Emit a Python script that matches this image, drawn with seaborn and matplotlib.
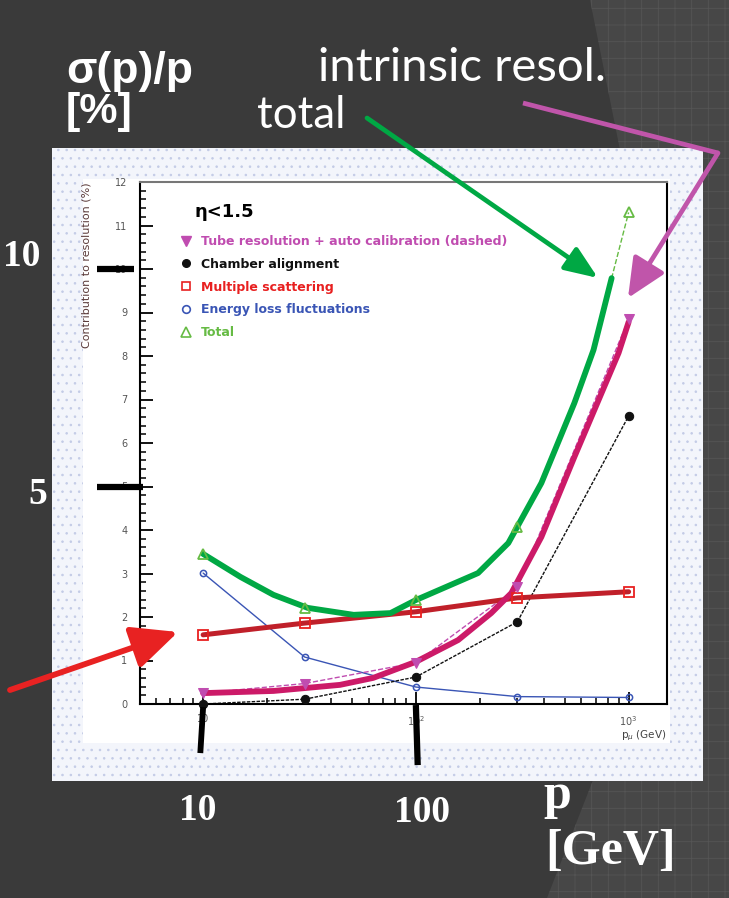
import matplotlib.pyplot as plt
import matplotlib.ticker as mticker
from matplotlib.patches import Rectangle, Polygon, FancyArrowPatch
from matplotlib.lines import Line2D
import seaborn as sns

W, H = 729, 898

# values (muon momentum in GeV, contributions in %)
p_gev = [10, 30, 100, 300, 1000]
tube_res = [0.25, 0.47, 0.95, 2.68, 8.85]
chamber_align = [0.0, 0.11, 0.62, 1.89, 6.62]
mult_scatt = [1.59, 1.86, 2.12, 2.44, 2.58]
eloss_fluct = [3.01, 1.08, 0.39, 0.17, 0.15]
total_res = [3.45, 2.20, 2.39, 4.07, 11.3]

# thick hand drawn highlight curves on top of the plot
hl_total_p = [10, 15, 21.4, 31, 51, 76, 100, 196, 272, 389, 556, 684, 832]
hl_total_v = [3.45, 2.92, 2.51, 2.21, 2.05, 2.09, 2.39, 3.01, 3.70, 5.08, 6.92, 8.14, 9.79]
hl_intr_p = [10, 21.4, 44, 63, 100, 158, 226, 281, 389, 556, 897, 1000]
hl_intr_v = [0.25, 0.30, 0.44, 0.60, 0.97, 1.47, 2.09, 2.55, 3.84, 5.68, 8.07, 8.78]

legend_labels = ["Tube resolution + auto calibration (dashed)", "Chamber alignment",
                 "Multiple scattering", "Energy loss fluctuations", "Total"]
x_tick_vals = [10, 100, 1000]
x_tick_text = ["10", "$10^{2}$", "$10^{3}$"]

c_tube, c_tube_thick = "#c04cb0", "#cc1a68"
c_black = "#111111"
c_ms, c_ms_thick = "#e82020", "#c0202a"
c_el = "#3a55b5"
c_tot, c_tot_thick = "#66bb44", "#00a844"

sns.set_theme(style="white")
plt.rcParams['font.family'] = ['DejaVu Sans']
plt.rcParams['hatch.linewidth'] = 0.6

fig = plt.figure(figsize=(W / 100, H / 100), dpi=100)
fig.patch.set_facecolor("#3a3a3a")


def fx(px):
    return px / W


def fy(py):
    return 1 - py / H


# slide background: lighter swoosh on the right
swoosh = [(590, 0), (729, 0), (729, 898), (547, 898), (593, 780), (640, 560), (650, 400), (630, 200)]
fig.add_artist(Polygon([(fx(a), fy(b)) for a, b in swoosh], closed=True, transform=fig.transFigure,
                       facecolor="#474747", edgecolor="#555555", hatch="+", lw=0, zorder=-3))
# pasted picture: dotted border and white inner part
fig.add_artist(Rectangle((fx(52), fy(781)), (703 - 52) / W, (781 - 148) / H, transform=fig.transFigure,
                         facecolor="#f3f5fb", edgecolor="#c3cbe6", hatch="..", lw=0, zorder=-2))
fig.add_artist(Rectangle((fx(83), fy(743)), (670 - 83) / W, (743 - 179) / H, transform=fig.transFigure,
                         facecolor="white", lw=0, zorder=-1))

ax = fig.add_axes([fx(140), fy(704), (667 - 140) / W, (704 - 182) / H])
ax.set_facecolor("white")
ax.set_xscale("log")

# thin curves of the original plot
sns.lineplot(x=p_gev, y=eloss_fluct, ax=ax, color=c_el, lw=1.0, zorder=2)
sns.lineplot(x=p_gev, y=chamber_align, ax=ax, color=c_black, lw=1.0, ls=(0, (2.5, 1)), zorder=2)
sns.lineplot(x=p_gev, y=tube_res, ax=ax, color=c_tube, lw=1.0, ls="--", zorder=2)
# the thin total curve runs under the thick one and sticks out at the top
sns.lineplot(x=hl_total_p + p_gev[-1:], y=hl_total_v + total_res[-1:], ax=ax, color=c_tot,
             lw=1.0, ls="--", zorder=2)

# thick highlight curves
sns.lineplot(x=p_gev, y=mult_scatt, ax=ax, color=c_ms_thick, lw=3.6,
             solid_capstyle="round", zorder=3)
sns.lineplot(x=hl_total_p, y=hl_total_v, ax=ax, color=c_tot_thick, lw=4.2,
             solid_capstyle="round", solid_joinstyle="round", zorder=3)
sns.lineplot(x=hl_intr_p, y=hl_intr_v, ax=ax, color=c_tube_thick, lw=4.2,
             solid_capstyle="round", solid_joinstyle="round", zorder=3)

# markers
sns.lineplot(x=p_gev, y=eloss_fluct, ax=ax, ls="none", marker="o", ms=4.5, mfc="none",
             mec=c_el, mew=1.1, zorder=4)
sns.lineplot(x=p_gev, y=chamber_align, ax=ax, ls="none", marker="o", ms=6, mfc=c_black,
             mec=c_black, zorder=4, clip_on=False)
sns.lineplot(x=p_gev, y=mult_scatt, ax=ax, ls="none", marker="s", ms=6.5, mfc="none",
             mec=c_ms, mew=1.3, zorder=4)
sns.lineplot(x=p_gev, y=tube_res, ax=ax, ls="none", marker="v", ms=7, mfc=c_tube,
             mec=c_tube, zorder=4)
sns.lineplot(x=p_gev, y=total_res, ax=ax, ls="none", marker="^", ms=7, mfc="none",
             mec=c_tot, mew=1.3, zorder=4)

ax.set_xlim(5.05, 1515)
ax.set_ylim(0, 12)

ax.yaxis.set_major_locator(mticker.MultipleLocator(1))
ax.yaxis.set_minor_locator(mticker.MultipleLocator(0.2))
ax.xaxis.set_major_locator(mticker.FixedLocator(x_tick_vals))
ax.xaxis.set_major_formatter(mticker.FixedFormatter(x_tick_text))
ax.xaxis.set_minor_locator(mticker.LogLocator(base=10, subs=range(2, 10)))
ax.xaxis.set_minor_formatter(mticker.NullFormatter())
ax.tick_params(which="major", direction="in", length=9, width=1.3, labelsize=7,
               labelcolor="#555555", color="black", left=True, bottom=True, pad=9)
ax.tick_params(axis="x", which="major", pad=7)
ax.tick_params(which="minor", direction="in", length=4.5, width=1.1, color="black",
               left=True, bottom=True)
for side in ["left", "bottom", "right"]:
    ax.spines[side].set_linewidth(1.5)
    ax.spines[side].set_color("black")
ax.spines["top"].set_linewidth(1.5)
ax.spines["top"].set_color("#777777")

ax.set_ylabel("Contribution to resolution (%)", loc="top", fontsize=8, color="#5a3a3a")
ax.yaxis.set_label_coords((92 - 140) / 527, 1.0)
ax.set_xlabel("p$_{\\mu}$ (GeV)", loc="right", fontsize=7.5, color="#444444")
ax.xaxis.set_label_coords(1.0, (704 - 729) / 522)

ax.text((195 - 140) / 527, (704 - 212) / 522, "η<1.5", transform=ax.transAxes,
        fontsize=13, fontweight="bold", color="black", ha="left", va="center")

handles = [
    Line2D([], [], ls="none", marker="v", ms=6.5, mfc=c_tube, mec=c_tube),
    Line2D([], [], ls="none", marker="o", ms=5.5, mfc=c_black, mec=c_black),
    Line2D([], [], ls="none", marker="s", ms=6, mfc="none", mec=c_ms, mew=1.2),
    Line2D([], [], ls="none", marker="o", ms=5.5, mfc="none", mec=c_el, mew=1.2),
    Line2D([], [], ls="none", marker="^", ms=6.5, mfc="none", mec=c_tot, mew=1.2),
]
leg = ax.legend(handles, legend_labels, loc="upper left", bbox_to_anchor=((182 - 140) / 527, (704 - 235) / 522),
                frameon=False, handlelength=0.7, handletextpad=0.8, labelspacing=0.78,
                borderpad=0, borderaxespad=0, prop={"weight": "bold", "size": 9})
for txt, col in zip(leg.get_texts(), [c_tube, c_black, c_ms, c_el, c_tot]):
    txt.set_color(col)

# black overlay bars marking 5 and 10 on the y axis and 10, 100 on the x axis
ytr = ax.get_yaxis_transform()
ax.plot([(97 - 140) / 527, (134 - 140) / 527], [10, 10], transform=ytr, color="black", lw=4.5,
        clip_on=False, solid_capstyle="butt", zorder=5)
ax.plot([(97 - 140) / 527, (143 - 140) / 527], [5, 5], transform=ytr, color="black", lw=4.5,
        clip_on=False, solid_capstyle="butt", zorder=5)
xtr = ax.get_xaxis_transform()
ax.plot([10, 9.7], [-0.006, -0.094], transform=xtr, color="black", lw=4.2,
        clip_on=False, solid_capstyle="butt", zorder=5)
ax.plot([100, 102], [-0.002, -0.117], transform=xtr, color="black", lw=4.5,
        clip_on=False, solid_capstyle="butt", zorder=5)

# slide texts
serif = dict(family="Liberation Serif", fontweight="bold", color="white", fontsize=27)
fig.text(fx(40), fy(256), "10", ha="right", va="center", **serif)
fig.text(fx(47), fy(494), "5", ha="right", va="center", **serif)
fig.text(fx(198), fy(810), "10", ha="center", va="center", **serif)
fig.text(fx(422), fy(812), "100", ha="center", va="center", **serif)
fig.text(fx(543), fy(808), "p", ha="left", va="baseline", family="Liberation Serif",
         fontweight="bold", color="white", fontsize=36)
fig.text(fx(545), fy(852), "[GeV]", ha="left", va="center", family="Liberation Serif",
         fontweight="bold", color="white", fontsize=36)

fig.text(fx(66), fy(72), "σ(p)/p", ha="left", va="center", family="Liberation Sans",
         fontweight="bold", color="white", fontsize=32)
fig.text(fx(66), fy(112), "[%]", ha="left", va="center", family="Liberation Sans",
         fontweight="bold", color="white", fontsize=31)
fig.text(fx(318), fy(68), "intrinsic resol.", ha="left", va="center", family="Lato",
         color="white", fontsize=34)
fig.text(fx(257), fy(116), "total", ha="left", va="center", family="Lato",
         color="white", fontsize=31.5)

# arrows pointing at the curves
def arrow(p0, p1, col, lw, hl, hw):
    fig.add_artist(FancyArrowPatch((fx(p0[0]), fy(p0[1])), (fx(p1[0]), fy(p1[1])),
                                   transform=fig.transFigure, color=col, lw=lw,
                                   arrowstyle=f"-|>,head_length={hl},head_width={hw}",
                                   mutation_scale=20, shrinkA=0, shrinkB=0, zorder=6))


arrow((367, 118), (598, 278), c_tot_thick, 3.4, 1.0, 0.4)
arrow((10, 690), (178, 632), "#e82222", 4.2, 1.4, 0.65)
fig.add_artist(Line2D([fx(523), fx(718)], [fy(103), fy(153)], transform=fig.transFigure,
                      color="#c055aa", lw=3.4, solid_capstyle="butt", zorder=6))
arrow((718, 153), (628, 298), "#c055aa", 3.4, 1.2, 0.55)

fig.savefig("out.png", dpi=100, facecolor=fig.get_facecolor())
